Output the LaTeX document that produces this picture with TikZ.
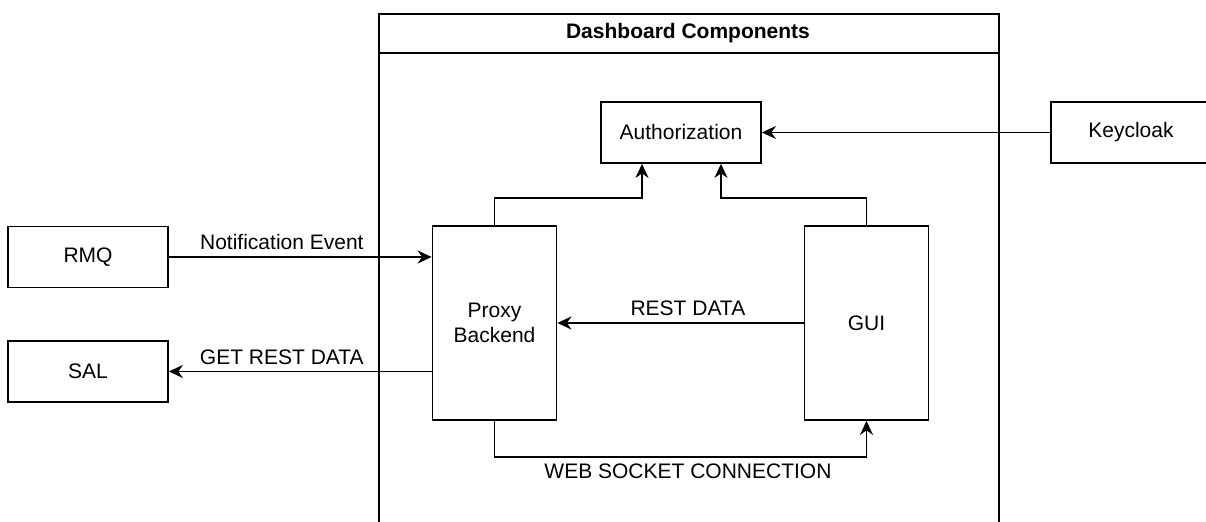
\documentclass[tikz,border=0pt]{standalone}
\usepackage{fontspec}
\setmainfont{Liberation Sans}
\usetikzlibrary{arrows.meta}
\begin{document}
\begin{tikzpicture}[x=0.5pt,y=-0.5pt,line width=0.9pt,>={Stealth[length=7pt,width=6.5pt]},
font=\fontsize{10.5}{12.6}\selectfont,
box/.style={draw,minimum width=80pt,minimum height=30.5pt,inner sep=0pt},
tall/.style={draw,minimum width=62pt,minimum height=97pt,inner sep=0pt,align=center}]
\useasboundingbox (0,0) rectangle (1206,522);
% container
\node[draw,anchor=north west,minimum width=310pt,minimum height=280pt,inner sep=0pt](dash)at(378,13){};
\draw (378,53)--(998,53);
\node[font=\fontsize{10.5}{12.6}\selectfont\bfseries](title)at(688,33){Dashboard Components};
% boxes
\node[box](auth)at(681,132.5){Authorization};
\node[box](key)at(1131,132.5){Keycloak};
\node[box](rmq)at(88,257){RMQ};
\node[box](sal)at(88,371.5){SAL};
\node[tall](proxy)at(494.5,323){Proxy\\Backend};
\node[tall](gui)at(866.5,323){GUI};
% connectors
\draw[->](rmq.east)--(rmq.east-|proxy.west)node[pos=0.43,above,inner sep=3pt]{Notification Event};
\draw[->](sal.east-|proxy.west)--(sal.east)node[pos=0.57,above,inner sep=3pt]{GET REST DATA};
\draw[->](gui.west)--(proxy.east)node[pos=0.47,above,inner sep=3pt]{REST DATA};
\draw[->](key.west)--(auth.east);
\draw[->](proxy.north)--++(0,-27)-|([xshift=-19.5pt]auth.south);
\draw[->](gui.north)--++(0,-27)-|([xshift=20pt]auth.south);
\draw[->](proxy.south)--++(0,36)-|(gui.south)node[pos=0.26,below,inner sep=3pt]{WEB SOCKET CONNECTION};
\end{tikzpicture}
\end{document}
